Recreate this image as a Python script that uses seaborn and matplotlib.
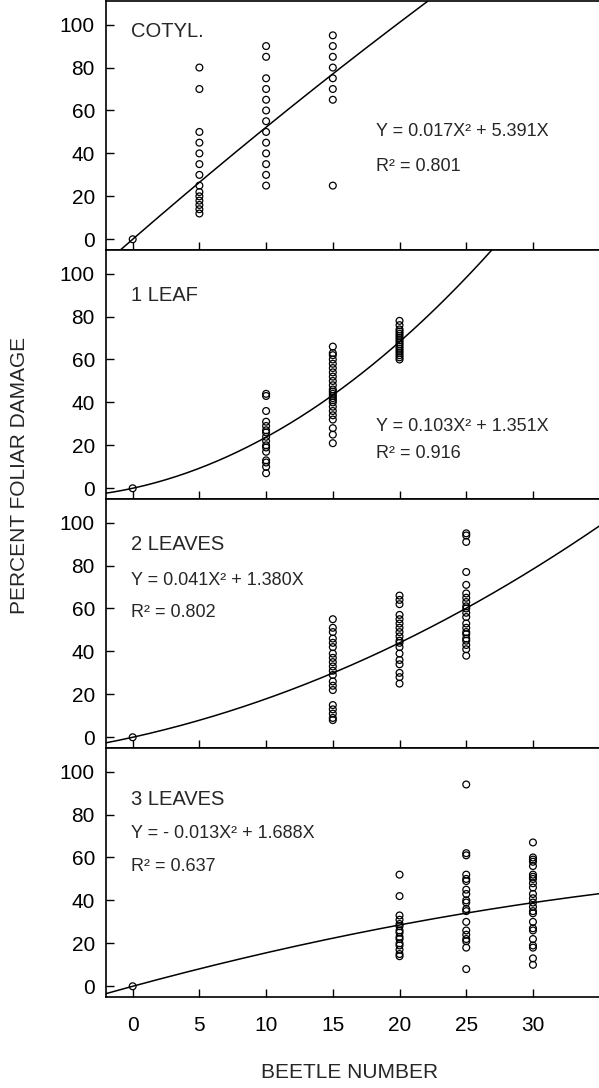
import numpy as np
import pandas as pd
import matplotlib
matplotlib.use("Agg")
import matplotlib.pyplot as plt
import seaborn as sns

# ---------------- data ----------------
stages = ["COTYL.", "1 LEAF", "2 LEAVES", "3 LEAVES"]

# beetle numbers and observed percent foliar damage per panel
cotyl_x = [0] + [5] * 14 + [10] * 13 + [15] * 8
cotyl_y = [0,
           80, 70, 50, 45, 40, 35, 30, 25, 22, 20, 18, 16, 14, 12,
           90, 85, 75, 70, 65, 60, 55, 50, 45, 40, 35, 30, 25,
           95, 90, 85, 80, 75, 70, 65, 25]

leaf1_x = [0] + [10] * 16 + [15] * 24 + [20] * 17
leaf1_y = [0,
           44, 43, 36, 31, 29, 27, 26, 24, 22, 20, 19, 17, 13, 12, 10, 7,
           66, 63, 62, 60, 58, 56, 54, 52, 50, 48, 46, 45, 44, 43, 42, 41,
           40, 38, 36, 34, 32, 28, 25, 21,
           78, 76, 74, 73, 72, 71, 70, 69, 68, 67, 66, 65, 64, 63, 62, 61, 60]

leaf2_x = [0] + [15] * 20 + [20] * 18 + [25] * 21
leaf2_y = [0,
           55, 51, 49, 46, 44, 42, 39, 37, 35, 33, 31, 29, 26, 24, 22, 15, 13, 11, 9, 8,
           66, 64, 62, 57, 55, 53, 51, 49, 47, 45, 44, 42, 39, 36, 34, 30, 28, 25,
           95, 94, 91, 77, 71, 67, 65, 63, 61, 60, 58, 56, 53, 51, 49, 48, 46, 45,
           43, 41, 38]

leaf3_x = [0] + [20] * 15 + [25] * 19 + [30] * 24
leaf3_y = [0,
           52, 42, 33, 31, 29, 28, 26, 25, 23, 22, 20, 19, 17, 15, 14,
           94, 62, 61, 52, 50, 49, 45, 43, 40, 39, 36, 35, 30, 26, 24, 22, 21, 18, 8,
           67, 60, 59, 58, 56, 52, 51, 50, 48, 46, 43, 41, 39, 37, 35, 34, 30, 27,
           26, 22, 19, 18, 13, 10]

panel_x = [cotyl_x, leaf1_x, leaf2_x, leaf3_x]
panel_y = [cotyl_y, leaf1_y, leaf2_y, leaf3_y]

# fitted curve Y = a X^2 + b X (the drawn COTYL. curve bends downward)
coef_a = [-0.017, 0.103, 0.041, -0.013]
coef_b = [5.391, 1.351, 1.380, 1.688]

equations = ["Y = 0.017X\u00b2 + 5.391X",
             "Y = 0.103X\u00b2 + 1.351X",
             "Y = 0.041X\u00b2 + 1.380X",
             "Y = - 0.013X\u00b2 + 1.688X"]
r2_texts = ["R\u00b2 = 0.801", "R\u00b2 = 0.916", "R\u00b2 = 0.802", "R\u00b2 = 0.637"]

x_ticks = [0, 5, 10, 15, 20, 25, 30]
y_ticks = [0, 20, 40, 60, 80, 100]

# ---------------- style ----------------
sns.set_style("ticks")
plt.rcParams["font.family"] = ["Liberation Sans", "DejaVu Sans"]

W, H = 599, 1088
fig = plt.figure(figsize=(W / 100, H / 100), dpi=100)

left_px = 106
right_px = 613
panel_h = 249
bottom_px = 997

label_pos = [(-0.1, 97), (-0.1, 90), (-0.1, 90), (-0.1, 87)]
eq_pos = [(18.2, 50, 34), (18.2, 29, 16), (-0.1, 73, 58), (-0.1, 71, 56)]

for i in range(4):
    bot = bottom_px - (3 - i) * panel_h
    ax = fig.add_axes([left_px / W, (H - bot) / H,
                       (right_px - left_px) / W, panel_h / H])
    df = pd.DataFrame({"beetles": panel_x[i], "damage": panel_y[i]})
    sns.scatterplot(data=df, x="beetles", y="damage", ax=ax,
                    marker="o", s=24, facecolor="none",
                    edgecolor="black", linewidth=0.9, zorder=3)
    xs = np.linspace(-2.2, 36.5, 300)
    fit = pd.DataFrame({"beetles": xs,
                        "damage": coef_a[i] * xs ** 2 + coef_b[i] * xs})
    sns.lineplot(data=fit, x="beetles", y="damage", ax=ax,
                 color="black", linewidth=1.1, zorder=2)

    ax.set_xlim(-2.0, 36.0)
    ax.set_ylim(-5, 111)
    ax.set_xticks(x_ticks)
    ax.set_yticks(y_ticks)
    ax.tick_params(direction="in", length=6, width=1, colors="black",
                   labelsize=15)
    ax.tick_params(axis="y", pad=8)
    ax.tick_params(axis="x", pad=14)
    if i < 3:
        ax.tick_params(axis="x", labelbottom=False)
    ax.set_xlabel("")
    ax.set_ylabel("")
    for sp in ax.spines.values():
        sp.set_linewidth(1.2)
        sp.set_color("black")

    lx, ly = label_pos[i]
    ax.text(lx, ly, stages[i], ha="left", va="center", fontsize=14.5)
    ex, ey, ry = eq_pos[i]
    ax.text(ex, ey, equations[i], ha="left", va="center", fontsize=13)
    ax.text(ex, ry, r2_texts[i], ha="left", va="center", fontsize=13)

fig.text(350 / W, (H - 1073) / H, "BEETLE NUMBER", ha="center",
         va="center", fontsize=15)
fig.text(20 / W, (H - 475) / H, "PERCENT FOLIAR DAMAGE", ha="center",
         va="center", rotation=90, fontsize=15)

fig.savefig("out.png", dpi=100)
